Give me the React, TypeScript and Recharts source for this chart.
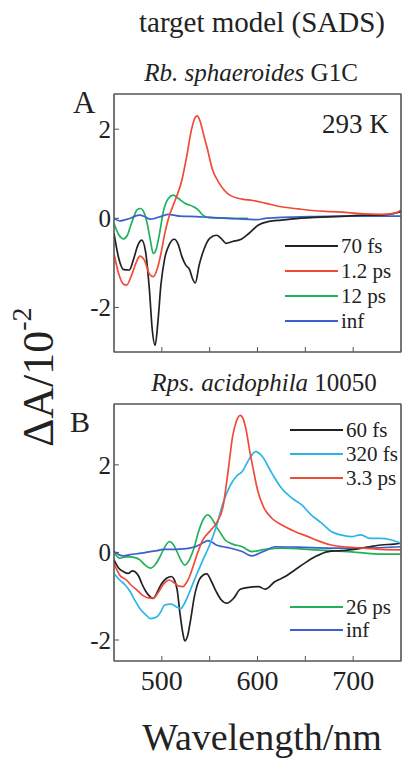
import React from "react";
import { Line, LineChart, ReferenceArea, XAxis, YAxis } from "recharts";

const xTicks = [500, 550, 600, 650, 700];
const yTicks = [-2, 0, 2];

// panel A: Rb. sphaeroides G1C
const blackA_nm = [450, 455, 460, 466, 470, 475, 479, 483, 487, 490, 493, 496, 499, 503, 508, 513, 517, 521, 525, 529, 532, 535, 539, 544, 550, 557, 562, 567, 574, 583, 591, 601, 612, 625, 643, 660, 681, 694, 711, 729, 743, 750];
const blackA_dA = [-0.34, -0.9, -1.15, -1.16, -0.95, -0.6, -0.49, -0.75, -1.6, -2.5, -2.85, -2.3, -1.5, -0.9, -0.58, -0.47, -0.58, -0.86, -1.05, -1.15, -1.35, -1.45, -1.05, -0.7, -0.45, -0.38, -0.45, -0.56, -0.52, -0.47, -0.34, -0.15, -0.07, -0.04, 0, 0.02, 0.04, 0.05, 0.07, 0.07, 0.11, 0.15];
const redA_nm = [450, 455, 460, 463, 469, 474, 477, 482, 487, 491, 495, 499, 503, 507, 514, 521, 526, 531, 535, 537, 540, 544, 547, 553, 560, 571, 584, 595, 608, 625, 643, 660, 677, 694, 711, 729, 743, 750];
const redA_dA = [-0.79, -1.25, -1.48, -1.5, -1.24, -0.95, -0.85, -0.95, -1.25, -1.31, -1.15, -0.8, -0.35, 0, 0.41, 0.86, 1.39, 1.99, 2.27, 2.3, 2.18, 1.85, 1.61, 1.09, 0.79, 0.52, 0.43, 0.4, 0.34, 0.26, 0.21, 0.17, 0.15, 0.13, 0.1, 0.09, 0.11, 0.19];
const greenA_nm = [450, 455, 460, 464, 467, 471, 474, 478, 481, 484, 488, 491, 494, 497, 502, 507, 512, 517, 524, 533, 538, 543, 548, 557, 574, 590];
const greenA_dA = [-0.11, -0.37, -0.46, -0.38, -0.19, 0.05, 0.19, 0.22, 0.15, -0.05, -0.49, -0.79, -0.7, -0.41, 0.19, 0.45, 0.52, 0.45, 0.34, 0.26, 0.19, 0.07, 0.02, 0.01, 0, 0];
const blueA_nm = [450, 456, 462, 467, 472, 477, 482, 488, 493, 500, 507, 513, 519, 536, 550, 571, 584, 600, 608, 625, 660, 694, 729, 750];
const blueA_dA = [0, -0.06, -0.03, 0, 0.05, 0.07, 0.04, -0.02, 0, 0.05, 0.09, 0.07, 0.05, 0.04, 0.02, 0, -0.02, -0.03, 0, 0.02, 0.04, 0.05, 0.05, 0.05];

// panel B: Rps. acidophila 10050
const blackB_nm = [450, 455, 460, 465, 469, 472, 476, 479, 483, 486, 491, 495, 498, 502, 505, 510, 513, 516, 519, 522, 524, 527, 530, 534, 539, 543, 547, 552, 557, 562, 568, 575, 582, 591, 601, 608, 618, 629, 639, 649, 660, 674, 687, 701, 715, 729, 743, 750];
const blackB_dA = [-0.17, -0.36, -0.44, -0.48, -0.42, -0.44, -0.55, -0.71, -0.88, -0.97, -1.05, -0.92, -0.78, -0.65, -0.59, -0.55, -0.62, -0.85, -1.4, -1.85, -2.02, -1.9, -1.55, -1.01, -0.63, -0.52, -0.49, -0.67, -0.9, -1.08, -1.16, -1.05, -0.84, -0.8, -0.78, -0.84, -0.67, -0.55, -0.4, -0.25, -0.1, 0.02, 0.04, 0.07, 0.12, 0.17, 0.19, 0.21];
const cyanB_nm = [450, 456, 462, 467, 472, 477, 483, 488, 495, 499, 503, 510, 515, 520, 524, 527, 534, 543, 550, 557, 564, 571, 578, 584, 591, 598, 605, 615, 625, 636, 646, 656, 667, 677, 687, 698, 708, 718, 729, 739, 750];
const cyanB_dA = [-0.48, -0.63, -0.75, -0.9, -1.1, -1.28, -1.42, -1.51, -1.47, -1.35, -1.2, -1.18, -1.24, -1.28, -1.15, -1.01, -0.63, -0.17, 0.17, 0.59, 1.13, 1.51, 1.74, 1.85, 2.12, 2.3, 2.19, 1.81, 1.47, 1.24, 1.09, 0.86, 0.67, 0.48, 0.4, 0.36, 0.4, 0.32, 0.32, 0.29, 0.21];
const redB_nm = [450, 456, 463, 468, 474, 480, 486, 491, 496, 502, 508, 512, 517, 522, 526, 529, 533, 536, 543, 550, 557, 564, 569, 574, 578, 582, 585, 588, 592, 596, 600, 606, 615, 625, 639, 653, 663, 677, 694, 711, 729, 750];
const redB_dA = [-0.25, -0.52, -0.63, -0.75, -0.86, -0.98, -1.04, -1.05, -0.92, -0.72, -0.63, -0.68, -0.76, -0.78, -0.68, -0.55, -0.3, -0.1, 0.29, 0.48, 0.67, 1.05, 1.81, 2.65, 3.0, 3.13, 3.05, 2.81, 2.3, 1.85, 1.43, 1.05, 0.78, 0.63, 0.48, 0.36, 0.27, 0.17, 0.12, 0.1, 0.07, 0.06];
const greenB_nm = [450, 456, 462, 467, 472, 477, 482, 488, 493, 498, 503, 508, 512, 515, 520, 524, 528, 533, 539, 544, 548, 552, 557, 562, 566, 574, 584, 594, 608, 625, 660, 694, 715, 736, 750];
const greenB_dA = [0, -0.13, -0.1, -0.1, -0.12, -0.17, -0.28, -0.36, -0.28, -0.1, 0.12, 0.25, 0.18, 0.06, -0.18, -0.29, -0.2, 0.06, 0.52, 0.78, 0.86, 0.78, 0.59, 0.42, 0.29, 0.19, 0.13, 0.02, 0.07, 0.1, 0.06, 0.02, -0.02, -0.04, -0.04];
const blueB_nm = [450, 455, 460, 467, 474, 481, 488, 495, 501, 508, 515, 522, 529, 535, 539, 544, 548, 552, 557, 564, 571, 578, 584, 589, 594, 600, 608, 618, 643, 677, 711, 750];
const blueB_dA = [0.02, -0.05, -0.08, -0.05, -0.03, -0.01, 0.02, 0.04, 0.07, 0.07, 0.07, 0.08, 0.1, 0.13, 0.17, 0.23, 0.27, 0.24, 0.17, 0.13, 0.1, 0.06, 0.02, -0.04, -0.08, -0.04, 0.04, 0.13, 0.12, 0.1, 0.1, 0.13];

const BLACK = "#222222";
const RED = "#f04b38";
const GREEN = "#1fb25a";
const BLUE = "#3c5fcf";
const CYAN = "#2ab6e8";
const FRAME = "#555555";
const FONT = "Liberation Serif";

const zip = (nm: number[], dA: number[]) => nm.map((x, i) => ({ x, y: dA[i] }));

const seriesA = [
  { name: "70 fs", color: BLACK, points: zip(blackA_nm, blackA_dA) },
  { name: "1.2 ps", color: RED, points: zip(redA_nm, redA_dA) },
  { name: "12 ps", color: GREEN, points: zip(greenA_nm, greenA_dA) },
  { name: "inf", color: BLUE, points: zip(blueA_nm, blueA_dA) },
];

const seriesB = [
  { name: "60 fs", color: BLACK, points: zip(blackB_nm, blackB_dA) },
  { name: "320 fs", color: CYAN, points: zip(cyanB_nm, cyanB_dA) },
  { name: "3.3 ps", color: RED, points: zip(redB_nm, redB_dA) },
  { name: "26 ps", color: GREEN, points: zip(greenB_nm, greenB_dA) },
  { name: "inf", color: BLUE, points: zip(blueB_nm, blueB_dA) },
];

// draw order: green, then blue, then the rest on top as in the figure
const drawOrderA = [2, 3, 0, 1];
const drawOrderB = [3, 4, 0, 1, 2];

interface PanelProps {
  series: typeof seriesA;
  order: number[];
  yDomain: [number, number];
  top: number;
  height: number;
  marginTop: number;
  marginBottom: number;
  bottomAxisHeight: number;
  showXLabels: boolean;
}

function Panel({ series, order, yDomain, top, height, marginTop, marginBottom, bottomAxisHeight, showXLabels }: PanelProps) {
  return (
    <div style={{ position: "absolute", left: 0, top }}>
      <LineChart width={406} height={height} margin={{ top: marginTop, right: 4, bottom: marginBottom, left: 0 }}>
        <XAxis
          xAxisId="b"
          dataKey="x"
          type="number"
          domain={[450, 750]}
          allowDataOverflow
          ticks={xTicks}
          height={bottomAxisHeight}
          tickSize={-5}
          tickMargin={14}
          stroke={FRAME}
          tick={{ fontSize: 28, fill: "#222", fontFamily: FONT }}
          tickFormatter={(v: number) => (showXLabels && v % 100 === 0 ? String(v) : "")}
        />
        <XAxis
          xAxisId="t"
          orientation="top"
          type="number"
          domain={[450, 750]}
          allowDataOverflow
          ticks={xTicks}
          height={1}
          tickSize={-5}
          stroke={FRAME}
          tickFormatter={() => ""}
        />
        <YAxis
          yAxisId="l"
          type="number"
          domain={yDomain}
          allowDataOverflow
          ticks={yTicks}
          width={114}
          tickSize={-5}
          tickMargin={8}
          stroke={FRAME}
          tick={{ fontSize: 25, fill: "#222", fontFamily: FONT }}
        />
        <YAxis yAxisId="r" orientation="right" width={1} tick={false} stroke={FRAME} />
        <ReferenceArea
          xAxisId="b"
          yAxisId="l"
          x1={450}
          x2={750}
          y1={yDomain[0]}
          y2={yDomain[1]}
          fill="none"
          stroke={FRAME}
          strokeWidth={1.2}
          ifOverflow="visible"
        />
        {order.map((i) => (
          <Line
            key={series[i].name + i}
            xAxisId="b"
            yAxisId="l"
            data={series[i].points}
            dataKey="y"
            type="monotone"
            stroke={series[i].color}
            strokeWidth={1.7}
            dot={false}
            isAnimationActive={false}
          />
        ))}
      </LineChart>
    </div>
  );
}

function LegendRows({ items, x, rows }: { items: typeof seriesA; x: number; rows: number[] }) {
  return (
    <g>
      {items.map((s, i) => (
        <g key={s.name + i}>
          <line x1={x} x2={x + 53} y1={rows[i]} y2={rows[i]} stroke={s.color} strokeWidth={1.8} />
          <text x={x + 56} y={rows[i] + 7} fontSize={21} fontFamily={FONT} fill="#222">
            {s.name}
          </text>
        </g>
      ))}
    </g>
  );
}

export default function App() {
  return (
    <div style={{ position: "relative", width: 406, height: 764, overflow: "hidden", background: "#fff", fontFamily: FONT }}>
      <style>{`body{margin:0} .recharts-text, .recharts-cartesian-axis-tick-value { font-family: 'Liberation Serif', serif; }`}</style>
      <Panel series={seriesA} order={drawOrderA} yDomain={[-3.0, 2.79]} top={0} height={360} marginTop={93} marginBottom={7} bottomAxisHeight={1} showXLabels={false} />
      <Panel series={seriesB} order={drawOrderB} yDomain={[-2.48, 3.39]} top={360} height={400} marginTop={43} marginBottom={59} bottomAxisHeight={40} showXLabels />
      <svg width={406} height={764} style={{ position: "absolute", left: 0, top: 0, pointerEvents: "none" }}>
        <text x={262} y={32} fontSize={29} fontFamily={FONT} textAnchor="middle" fill="#222">
          target model (SADS)
        </text>
        <text x={251} y={81} fontSize={25} fontFamily={FONT} textAnchor="middle" fill="#222">
          <tspan fontStyle="italic">Rb. sphaeroides</tspan> G1C
        </text>
        <text x={264} y={391} fontSize={25} fontFamily={FONT} textAnchor="middle" fill="#222">
          <tspan fontStyle="italic">Rps. acidophila</tspan> 10050
        </text>
        <text x={73} y={113} fontSize={31} fontFamily={FONT} fill="#222">A</text>
        <text x={70} y={432} fontSize={30} fontFamily={FONT} fill="#222">B</text>
        <text x={322} y={133} fontSize={27} fontFamily={FONT} fill="#222">293 K</text>
        <text x={262} y={750} fontSize={38} fontFamily={FONT} textAnchor="middle" fill="#222">
          Wavelength/nm
        </text>
        <text transform="translate(53,447) rotate(-90)" fontSize={44} fontFamily={FONT} fill="#222">
          ΔA/10<tspan fontSize={28} dy={-22}>-2</tspan>
        </text>
        <LegendRows items={seriesA} x={285} rows={[246, 271, 296, 321]} />
        <LegendRows items={seriesB.slice(0, 3)} x={290} rows={[430, 454, 478]} />
        <LegendRows items={seriesB.slice(3)} x={290} rows={[607, 630]} />
      </svg>
    </div>
  );
}
